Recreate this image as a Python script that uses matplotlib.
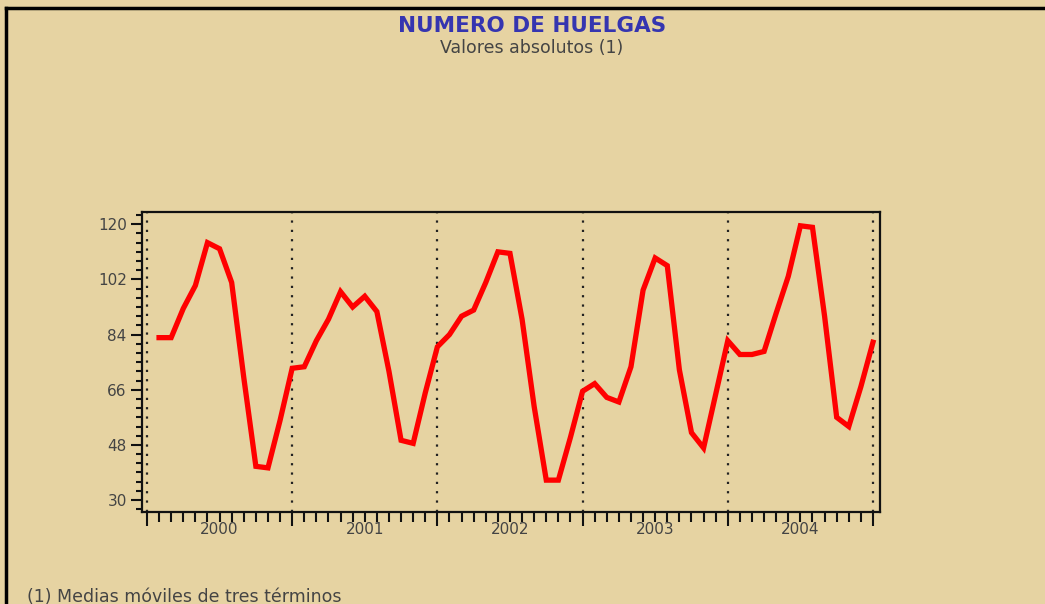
import numpy as np
import matplotlib
matplotlib.use("Agg")
import matplotlib.pyplot as plt
from matplotlib.ticker import MultipleLocator

# Datos: medias moviles de tres terminos, enero 2000 - diciembre 2004
years = ["2000", "2001", "2002", "2003", "2004"]
huelgas = [
    83, 83, 92.5, 100, 114, 112, 101, 70, 41, 40.5, 56, 73,        # 2000
    73.5, 82, 89, 98, 93, 96.5, 91.5, 72, 49.5, 48.5, 65, 80,      # 2001
    84, 90, 92, 101, 111, 110.5, 89, 60.5, 36.5, 36.5, 50.5, 65.5, # 2002
    68, 63.5, 62, 73.5, 98.5, 109, 106.5, 72.5, 52, 47, 64.5, 82,  # 2003
    77.5, 77.5, 78.5, 91, 103, 119.5, 119, 90, 57, 54, 67, 81.5,   # 2004
]
yticks = [30, 48, 66, 84, 102, 120]

bg = "#E6D3A2"
fig = plt.figure(figsize=(10.45, 6.04), dpi=100, facecolor=bg)
ax = fig.add_axes([142 / 1045, 1 - 512 / 604, 738 / 1045, 300 / 604])
ax.set_facecolor(bg)

x = np.arange(1, len(huelgas) + 1)
ax.plot(x, huelgas, color="#FF0000", lw=3.8, solid_joinstyle="miter")

# lineas punteadas en el cambio de año
for xv in range(0, 61, 12):
    ax.axvline(xv, color="#222222", lw=1.6, ls=(0, (1, 3.2)), zorder=1)

ax.set_xlim(-0.41, 60.58)
ax.set_ylim(26.1, 124.0)

ax.set_xticks(range(0, 61, 12))
ax.set_xticklabels([])
ax.xaxis.set_minor_locator(MultipleLocator(1))
ax.tick_params(axis="x", which="major", length=10, width=1.5, direction="out", color="#111111")
ax.tick_params(axis="x", which="minor", length=7, width=1.5, direction="out", color="#111111")

ax.set_yticks(yticks)
ax.set_yticklabels([str(v) for v in yticks], fontsize=11, color="#444444")
ax.yaxis.set_minor_locator(MultipleLocator(3))
ax.tick_params(axis="y", which="major", length=8, width=1.5, direction="out", color="#111111", pad=3)
ax.tick_params(axis="y", which="minor", length=4, width=1.5, direction="out", color="#111111")

for i, yr in enumerate(years):
    ax.text(6 + 12 * i, -0.035, yr, transform=ax.get_xaxis_transform(),
            ha="center", va="top", fontsize=11, color="#444444")

for s in ax.spines.values():
    s.set_color("#111111")
    s.set_linewidth(1.6)

fig.text(532 / 1045, 1 - 26 / 604, "NUMERO DE HUELGAS", ha="center", va="center",
         fontsize=15.5, fontweight="bold", color="#3535B0")
fig.text(532 / 1045, 1 - 48 / 604, "Valores absolutos (1)", ha="center", va="center",
         fontsize=12.5, color="#444444")
fig.text(27 / 1045, 1 - 597 / 604, "(1) Medias móviles de tres términos", ha="left",
         va="center", fontsize=12.5, color="#444444")

# marco superior e izquierdo
fig.add_artist(plt.Line2D([6 / 1045, 1], [1 - 8 / 604, 1 - 8 / 604], color="black", lw=2.5,
                          transform=fig.transFigure))
fig.add_artist(plt.Line2D([6 / 1045, 6 / 1045], [0, 1 - 8 / 604], color="black", lw=2.5,
                          transform=fig.transFigure))

fig.savefig("out.png", dpi=100, facecolor=bg)
